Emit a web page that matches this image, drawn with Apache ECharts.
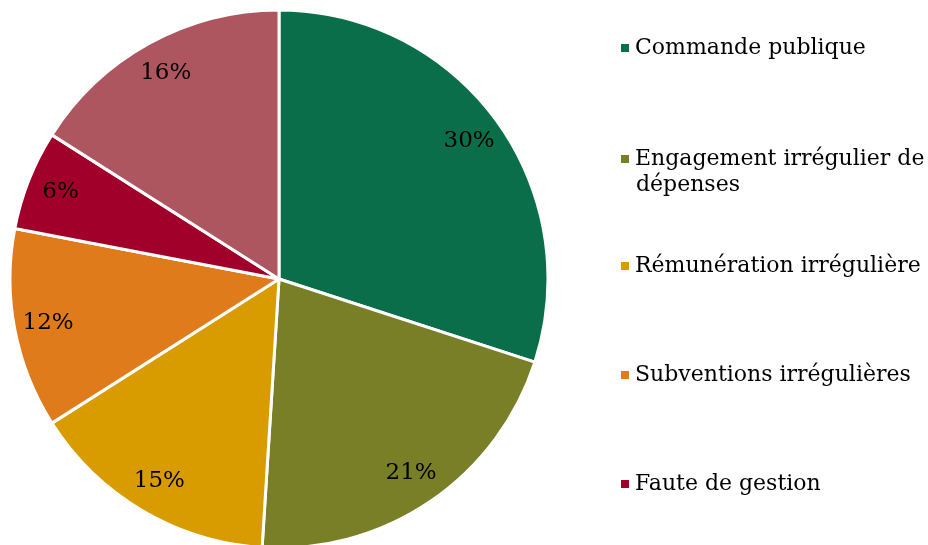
<!DOCTYPE html>
<html>
<head>
<meta charset="utf-8">
<script src="https://cdn.jsdelivr.net/npm/echarts@6/dist/echarts.min.js"></script>
<style>
  html, body { margin: 0; padding: 0; background: #fff; }
  #chart { width: 928px; height: 545px; }
</style>
</head>
<body>
<div id="chart"></div>
<script>
// données
const categories = ['Commande publique', 'Engagement irrégulier de dépenses', 'Rémunération irrégulière', 'Subventions irrégulières', 'Faute de gestion', 'Autres']
const values = [30, 21, 15, 12, 6, 16]
const colors = ['#0B6E4A', '#787F26', '#D89B00', '#E07B1B', '#A0002A', '#AE5660']
// la légende ne montre que les 5 premières catégories
const legendNames = categories.slice(0, 5)
const legendTops = [34, 145, 252, 361, 470]

const font = 'DejaVu Serif'
const chart = echarts.init(document.getElementById('chart'))

const pieData = categories.map((name, i) => ({ name, value: values[i], itemStyle: { color: colors[i] } }))

chart.setOption({
  animation: false,
  legend: legendNames.map((name, i) => ({
    data: [name],
    orient: 'vertical',
    left: 619,
    top: legendTops[i],
    padding: 0,
    icon: 'rect',
    itemWidth: 10,
    itemHeight: 10,
    selectedMode: false,
    formatter: n => n.replace(' dépenses', ''),
    textStyle: { fontFamily: font, fontSize: 22, color: '#000', lineHeight: 28 },
  })),
  graphic: [
    {
      type: 'text',
      left: 636,
      top: 174,
      style: { text: 'dépenses', fontFamily: font, fontSize: 22, fill: '#000' },
    },
  ],
  series: [
    {
      type: 'pie',
      center: [279, 279],
      radius: [0, 269],
      startAngle: 90,
      clockwise: true,
      data: pieData,
      label: { show: false },
      labelLine: { show: false },
      itemStyle: { borderColor: '#fff', borderWidth: 3 },
      emphasis: { disabled: true },
    },
    {
      // anneau transparent pour placer les étiquettes vers l'extérieur
      type: 'pie',
      center: [279, 279],
      radius: [197, 267],
      startAngle: 90,
      clockwise: true,
      silent: true,
      data: categories.map((name, i) => ({ name, value: values[i] })),
      itemStyle: { color: 'transparent', borderWidth: 0 },
      label: {
        show: true,
        position: 'inside',
        formatter: '{c}%',
        fontFamily: font,
        fontSize: 23,
        color: '#000',
      },
      labelLine: { show: false },
      emphasis: { disabled: true },
    },
  ],
})
</script>
</body>
</html>
